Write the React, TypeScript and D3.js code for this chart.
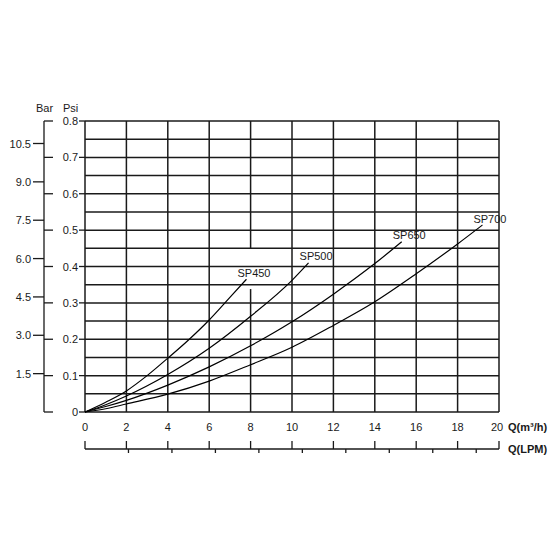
import React from "react";
import * as d3 from "d3";

const qTicks = [0, 2, 4, 6, 8, 10, 12, 14, 16, 18, 20];
const psiTicks = [0, 0.1, 0.2, 0.3, 0.4, 0.5, 0.6, 0.7, 0.8];
const psiLabels = ["0", "0.1", "0.2", "0.3", "0.4", "0.5", "0.6", "0.7", "0.8"];
const gridRows = [0.05, 0.1, 0.15, 0.2, 0.25, 0.3, 0.35, 0.4, 0.45, 0.5, 0.55, 0.6, 0.65, 0.7, 0.75, 0.8];
const barTicks = [1.5, 3.0, 4.5, 6.0, 7.5, 9.0, 10.5];
const barLabels = ["1.5", "3.0", "4.5", "6.0", "7.5", "9.0", "10.5"];
const lpmTicks = [35, 70, 105, 140, 175, 210, 245, 280, 315];

const sp450Q = [0, 1, 2, 3, 4, 5, 6, 7, 7.8];
const sp450V = [0, 0.027, 0.058, 0.1, 0.148, 0.198, 0.253, 0.315, 0.365];
const sp500Q = [0, 1, 2, 4, 6, 8, 10, 10.8];
const sp500V = [0, 0.02, 0.044, 0.103, 0.175, 0.263, 0.362, 0.41];
const sp650Q = [0, 1, 2, 4, 6, 8, 10, 12, 14, 15.3];
const sp650V = [0, 0.015, 0.032, 0.074, 0.124, 0.182, 0.248, 0.324, 0.408, 0.468];
const sp700Q = [0, 1, 2, 4, 6, 8, 10, 12, 14, 16, 18, 19.2];
const sp700V = [0, 0.009, 0.022, 0.049, 0.085, 0.13, 0.178, 0.238, 0.303, 0.38, 0.462, 0.514];

const seriesNames = ["SP450", "SP500", "SP650", "SP700"];
const seriesQ = [sp450Q, sp500Q, sp650Q, sp700Q];
const seriesV = [sp450V, sp500V, sp650V, sp700V];

// gap in the vertical grid line behind the SP450 label
const gapQ = 8;
const gapFrom = 0.338;
const gapTo = 0.45;

const FONT = "'Liberation Sans', Arial, sans-serif";
const INK = "#1a1a1a";

export default function App() {
  const x = d3.scaleLinear().domain([0, 20]).range([85, 499]);
  const y = d3.scaleLinear().domain([0, 0.8]).range([412, 121]);
  const yBar = d3.scaleLinear().domain([0, 11.38]).range([412, 121]);
  const xLpm = d3.scaleLinear().domain([0, (20 * 1000) / 60]).range([85, 499]);
  const barAxisX = 44;
  const lpmY = 449;

  const line = d3
    .line<[number, number]>()
    .x((d) => x(d[0]))
    .y((d) => y(d[1]))
    .curve(d3.curveMonotoneX);

  return (
    <svg
      width={560}
      height={560}
      style={{ position: "absolute", left: 0, top: 0, background: "#fff" }}
      fontFamily={FONT}
    >
      <rect x={0} y={0} width={560} height={560} fill="#fff" />
      {/* horizontal grid */}
      {gridRows.map((v) => (
        <line key={"h" + v} x1={x(0)} x2={x(20)} y1={y(v)} y2={y(v)} stroke={INK} strokeWidth={1.5} />
      ))}
      <line x1={x(0)} x2={x(20)} y1={y(0)} y2={y(0)} stroke={INK} strokeWidth={1.5} />
      {/* vertical grid */}
      {qTicks.map((q) =>
        q === gapQ ? (
          <g key={"v" + q}>
            <line x1={x(q)} x2={x(q)} y1={y(0)} y2={y(gapFrom)} stroke={INK} strokeWidth={1.5} />
            <line x1={x(q)} x2={x(q)} y1={y(gapTo)} y2={y(0.8)} stroke={INK} strokeWidth={1.5} />
          </g>
        ) : (
          <line key={"v" + q} x1={x(q)} x2={x(q)} y1={y(0)} y2={y(0.8)} stroke={INK} strokeWidth={1.5} />
        )
      )}

      {/* psi axis ticks and labels */}
      {psiTicks.map((v, i) => (
        <g key={"p" + v}>
          <line x1={barAxisX} x2={barAxisX + 9} y1={y(v)} y2={y(v)} stroke={INK} strokeWidth={1.3} />
          <line x1={x(0) - 6} x2={x(0)} y1={y(v)} y2={y(v)} stroke={INK} strokeWidth={1.3} />
          <text x={78} y={y(v) + 4} textAnchor="end" fontSize={11} fill={INK}>
            {psiLabels[i]}
          </text>
        </g>
      ))}

      {/* bar axis */}
      <line x1={barAxisX} x2={barAxisX} y1={yBar(0)} y2={y(0.8)} stroke={INK} strokeWidth={1.3} />
      {barTicks.map((b, i) => (
        <g key={"b" + b}>
          <line x1={barAxisX - 11} x2={barAxisX} y1={yBar(b)} y2={yBar(b)} stroke={INK} strokeWidth={1.3} />
          <text x={31} y={yBar(b) + 4} textAnchor="end" fontSize={11} fill={INK}>
            {barLabels[i]}
          </text>
        </g>
      ))}
      <text x={36} y={112} fontSize={11} fill={INK}>
        Bar
      </text>
      <text x={63} y={112} fontSize={11} fill={INK}>
        Psi
      </text>

      {/* Q m3/h labels */}
      {qTicks.map((q) => (
        <text key={"ql" + q} x={q === 20 ? x(q) - 2 : x(q)} y={431} textAnchor="middle" fontSize={11} fill={INK}>
          {q}
        </text>
      ))}
      <text x={508} y={431} fontSize={11} fontWeight="bold" fill={INK}>
        Q(m³/h)
      </text>

      {/* LPM axis */}
      <line x1={x(0)} x2={x(20)} y1={lpmY} y2={lpmY} stroke={INK} strokeWidth={1.3} />
      {qTicks.map((q) => (
        <line key={"lt" + q} x1={x(q)} x2={x(q)} y1={lpmY - 8} y2={lpmY} stroke={INK} strokeWidth={1.3} />
      ))}
      {lpmTicks.map((l) => (
        <line key={"lm" + l} x1={xLpm(l)} x2={xLpm(l)} y1={lpmY} y2={lpmY + 4} stroke={INK} strokeWidth={1.3} />
      ))}
      <text x={508} y={453} fontSize={11} fontWeight="bold" fill={INK}>
        Q(LPM)
      </text>

      {/* curves */}
      {seriesNames.map((name, i) => {
        const pts: [number, number][] = seriesQ[i].map((q, j) => [q, seriesV[i][j]]);
        const end = pts[pts.length - 1];
        return (
          <g key={name}>
            <path d={line(pts) || ""} fill="none" stroke="#000" strokeWidth={1.2} />
            <text x={x(end[0]) - 9} y={y(end[1]) - 2.5} fontSize={11} fill={INK}>
              {name}
            </text>
          </g>
        );
      })}
    </svg>
  );
}
